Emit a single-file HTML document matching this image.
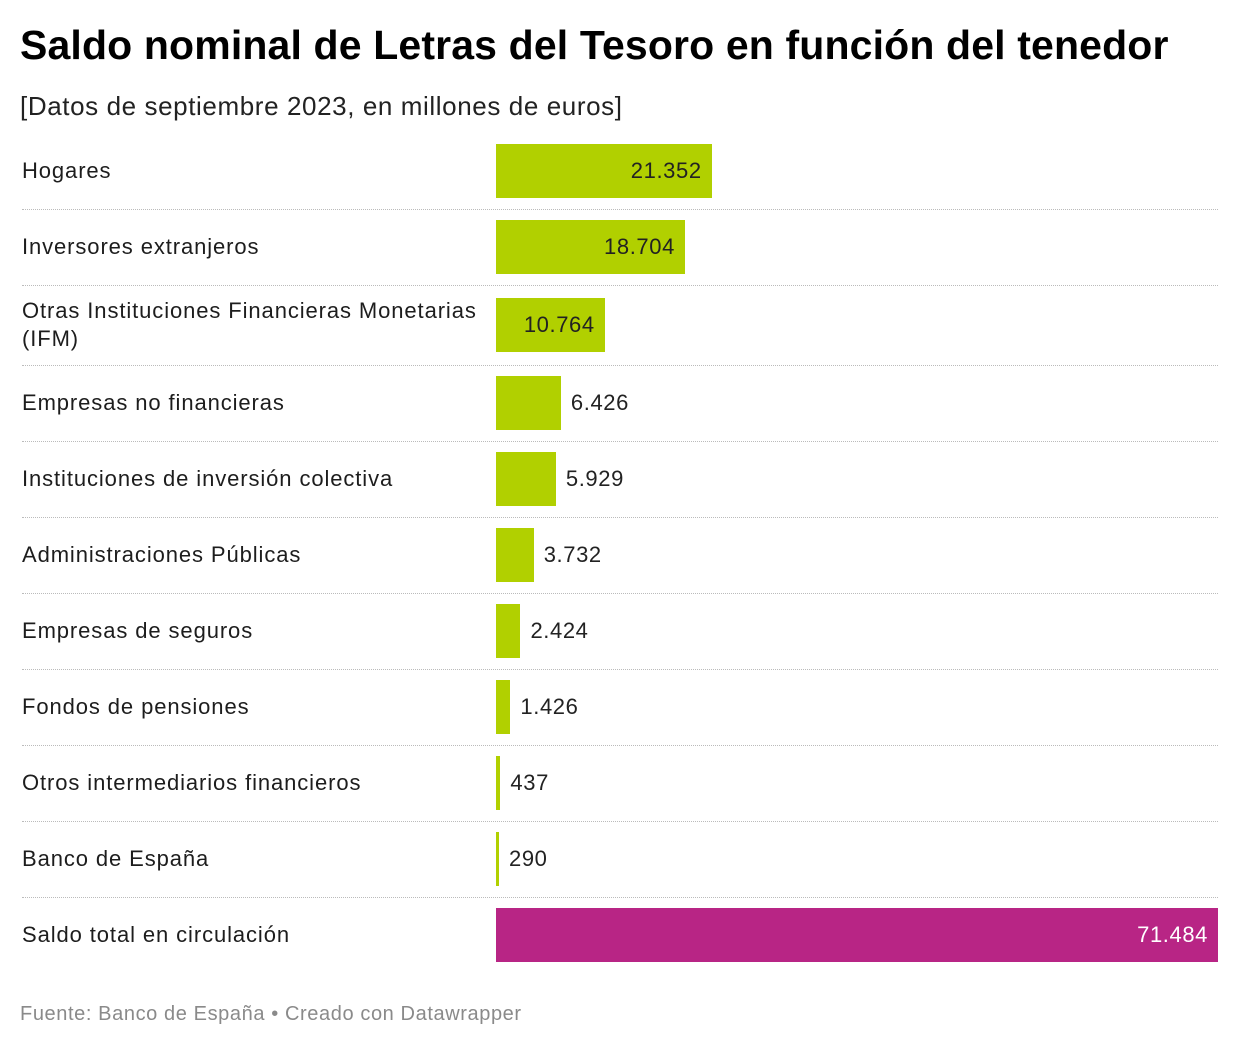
<!DOCTYPE html>
<html><head><meta charset="utf-8">
<style>
body{margin:0;width:1240px;height:1048px;background:#fff;font-family:"Liberation Sans",sans-serif;position:relative;overflow:hidden;color:#1d1d1d}
.abs{position:absolute}
#title{left:20px;top:22px;font-size:41px;font-weight:bold;color:#000;letter-spacing:0.14px;white-space:nowrap}
#sub{left:20px;top:91px;font-size:26px;color:#222;letter-spacing:0.6px;white-space:nowrap}
.lab{left:22px;width:474px;font-size:22px;line-height:28px;color:#1d1d1d;letter-spacing:0.9px}
.bar{left:496px;height:54px}
.val{font-size:22px;line-height:54px;white-space:nowrap;letter-spacing:0.6px}
.sep{left:22px;width:1196px;border-top:1px dotted #bbb;height:0}
#foot{left:20px;top:1003px;font-size:20px;color:#8a8a8a;letter-spacing:0.6px;white-space:nowrap}
</style></head><body>
<div id="title" class="abs">Saldo nominal de Letras del Tesoro en función del tenedor</div>
<div id="sub" class="abs">[Datos de septiembre 2023, en millones de euros]</div>
<div id="chart"></div>
<div id="foot" class="abs">Fuente: Banco de España • Creado con Datawrapper</div>
<script>
const categories=["Hogares","Inversores extranjeros","Otras Instituciones Financieras Monetarias (IFM)","Empresas no financieras","Instituciones de inversión colectiva","Administraciones Públicas","Empresas de seguros","Fondos de pensiones","Otros intermediarios financieros","Banco de España","Saldo total en circulación"];
const values=[21352,18704,10764,6426,5929,3732,2424,1426,437,290,71484];
const valueLabels=["21.352","18.704","10.764","6.426","5.929","3.732","2.424","1.426","437","290","71.484"];
const maxVal=71484, barW=722;
const x=v=>v/maxVal*barW;
const chart=document.getElementById('chart');
values.forEach((v,i)=>{
  const top=144+i*76+(i===2?2:0)+(i>=3?4:0);
  const isTotal=i===values.length-1;
  const lab=document.createElement('div');
  lab.className='abs lab';
  
  
  lab.textContent=categories[i];
  chart.appendChild(lab);
  const lines=categories[i].length>45?2:1;
  lab.style.top=(top+27-lines*14)+'px';
  const w=Math.max(x(v),3);
  const bar=document.createElement('div');
  bar.className='abs bar';
  
  
  bar.style.top=top+'px';bar.style.width=w+'px';
  bar.style.background=isTotal?'#b82585':'#b1d000';
  chart.appendChild(bar);
  const val=document.createElement('div');
  val.className='abs val';
  
  
  val.textContent=valueLabels[i];
  val.style.top=top+'px';
  if(w>100){val.style.right=(1240-496-w+10)+'px';val.style.color=isTotal?'#fff':'#222';}
  else{val.style.left=(496+w+10)+'px';val.style.color='#222';}
  chart.appendChild(val);
  if(!isTotal){
    const s=document.createElement('div');
    s.className='abs sep';
    
    
    s.style.top=(top+65+(i===2?2:0))+'px';
    chart.appendChild(s);
  }
});
</script>
</body></html>
